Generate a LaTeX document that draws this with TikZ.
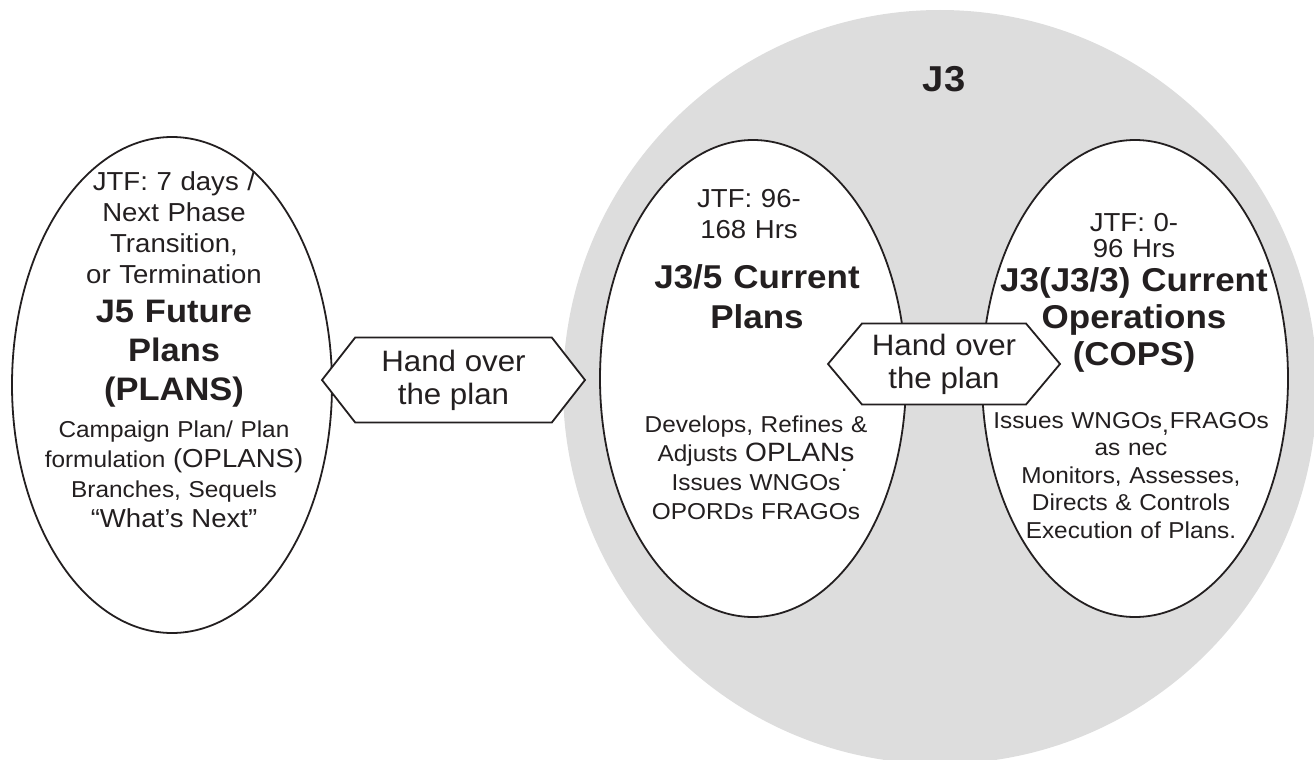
\documentclass[tikz,border=0pt]{standalone}
\usepackage{fontspec}
\setmainfont{Liberation Sans}[FakeStretch=1.06]
\usetikzlibrary{shapes.geometric,shapes.symbols}

\definecolor{ringgray}{HTML}{DDDDDD}
\definecolor{ink}{HTML}{231F20}

\newcommand\fsz[2]{\fontsize{#1}{#2}\selectfont}

\begin{document}
\begin{tikzpicture}[
  x=1pt, y=-1pt,
  zone/.style={circle, fill=ringgray, draw=none, inner sep=0pt},
  cell/.style={ellipse, draw=ink, line width=1.8pt, fill=white, inner sep=0pt},
  handover/.style={shape=signal, signal to=west and east, draw=ink,
    line width=1.8pt, fill=white, inner sep=0pt, text=ink,
    align=center, font=\fsz{29.5}{33}},
  txt/.style={inner sep=0pt, text width=420pt, align=center, anchor=base, text=ink},
]
\useasboundingbox (0,0) rectangle (1314,760);

% grey J3 area
\node[zone, minimum size=754pt] (j3zone) at (940,387) {};
\node[txt, font=\fsz{36}{40}\bfseries] (j3label) at (944,92) {J3};

% the three planning cells
\node[cell, minimum width=320pt, minimum height=496pt] (future) at (172,385) {};
\node[cell, minimum width=306pt, minimum height=477pt] (curplans) at (753,378.5) {};
\node[cell, minimum width=306pt, minimum height=477pt] (curops) at (1135,378.5) {};

% hand-over arrows between the cells
\node[handover, minimum width=263pt, minimum height=85pt, signal pointer angle=104]
  (hand1) at (453.5,380) {Hand over\\the plan};
\node[handover, minimum width=232pt, minimum height=81pt, signal pointer angle=100]
  (hand2) at (944,364) {Hand over\\the plan};

% J5 future plans
\node[txt, font=\fsz{26}{31}] (futtop) at (174,190)
  {JTF: 7 days /\\Next Phase\\Transition,\\or Termination};
\node[txt, font=\fsz{32.5}{39}\bfseries] (futname) at (174,322)
  {J5 Future\\Plans\\(PLANS)};
\node[txt, font=\fsz{23}{30}] (futtasks) at (174,437)
  {Campaign Plan/ Plan\\formulation {\fsz{26}{30}(OPLANS)}\\Branches, Sequels\\{\fsz{26}{30}“What’s Next”}};

% J3/5 current plans
\node[txt, font=\fsz{26}{31}] (cptop) at (749,207) {JTF: 96-\\168 Hrs};
\node[txt, font=\fsz{33}{40}\bfseries] (cpname) at (757,288) {J3/5 Current\\Plans};
\node[txt, font=\fsz{23}{29}] (cptasks) at (756,432)
  {Develops, Refines \&\\Adjusts {\fsz{26.5}{29}OPLANs}\\Issues WNGOs\rlap{\kern0.5pt\raisebox{19pt}{.}}\\OPORDs FRAGOs};

% J3 current operations
\node[txt, font=\fsz{26}{26}] (cotop) at (1134,231) {JTF: 0-\\96 Hrs};
\node[txt, font=\fsz{33}{37}\bfseries] (coname) at (1134,291)
  {J3(J3/3) Current\\Operations\\(COPS)};
\node[txt, font=\fsz{23}{27.5}] (cotasks) at (1131,428)
  {Issues WNGOs\rlap{\raisebox{-4pt}{,}} FRAGOs\\as nec\\Monitors, Assesses,\\Directs \& Controls\\Execution of Plans.};
\end{tikzpicture}
\end{document}
